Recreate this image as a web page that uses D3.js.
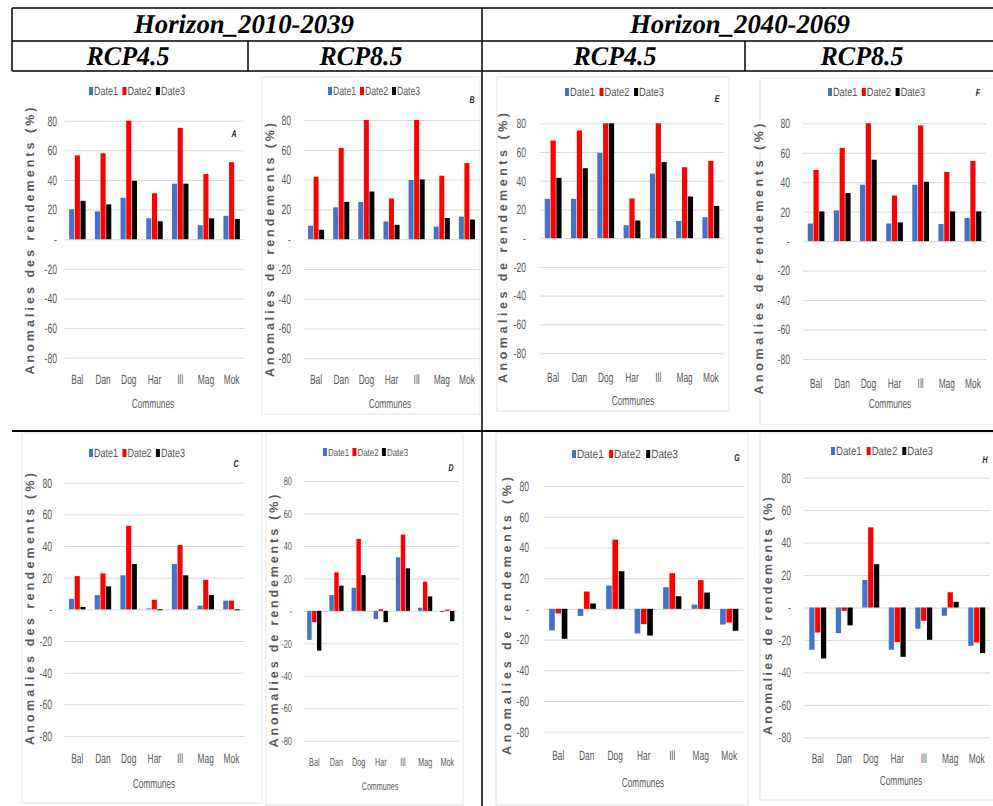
<!DOCTYPE html>
<html>
<head>
<meta charset="utf-8">
<script src="https://cdn.jsdelivr.net/npm/d3@7"></script>
<style>
  body { margin: 0; background: #fff; }
  svg { display: block; opacity: 0.999; }
  svg text { text-rendering: geometricPrecision; }
</style>
</head>
<body>
<svg id="fig" width="993" height="806"></svg>
<script>
// ---- data ----
const communes = ["Bal", "Dan", "Dog", "Har", "Ill", "Mag", "Mok"];
const dates = ["Date1", "Date2", "Date3"];
const dateColors = ["#4472C4", "#FF0000", "#000000"];
const yTickValues = [80, 60, 40, 20, 0, -20, -40, -60, -80];
const horizons = ["Horizon_2010-2039", "Horizon_2040-2069"];
const scenarios = ["RCP4.5", "RCP8.5"];
const xTitle = "Communes";
const yTitleDes = "Anomalies des rendements (%)";
const yTitleDe = "Anomalies de rendements (%)";

// yield anomalies (%), one row per date, columns in commune order
const valuesA = [[20.2, 18.8, 28, 14.1, 37.5, 9.4, 15.8], [56.6, 58, 80, 31, 75.2, 44, 52], [25.9, 23.5, 39.4, 12.1, 37.5, 14.1, 13.6]];
const valuesB = [[9, 21.4, 25, 11.9, 39.7, 8.4, 15.1], [41.9, 61.3, 80, 27.3, 80, 42.6, 51.1], [6.3, 25, 32, 9.6, 40.1, 14.2, 13.2]];
const valuesE = [[27.4, 27.4, 59.4, 9, 45, 12, 14.6], [68, 75, 80, 27.6, 80, 49.4, 53.8], [42, 48.7, 80, 12.3, 53, 29, 22.5]];
const valuesF = [[12, 20.9, 38.3, 12, 38.3, 11.6, 15.8], [48.4, 63.3, 80, 31, 78.6, 47, 54.4], [20.2, 32.6, 55.3, 12.7, 40.3, 20.2, 20.2]];
const valuesC = [[6.7, 9, 21.5, 0.6, 28.6, 2.3, 5.5], [21, 22.7, 52.8, 6.1, 40.6, 18.7, 5.5], [1.5, 14.5, 28.6, -0.6, 21.5, 9, -0.6]];
const valuesD = [[-17.9, 9.7, 14.2, -5, 33, 1.9, -0.8], [-7, 23.7, 44.3, 1, 47, 18, 0.8], [-24.5, 15.5, 22, -7, 26.2, 8.9, -6.4]];
const valuesG = [[-14.1, -4.6, 15.2, -16, 14.1, 2.8, -10.2], [-3, 11.3, 45.1, -10, 23.2, 18.7, -8.9], [-19.5, 3.5, 24.5, -17.4, 8.2, 10.6, -14.3]];
const valuesH = [[-26, -15.8, 17, -26, -13.1, -5.1, -23.6], [-15.4, -2, 49.4, -21.3, -8.2, 9.4, -21.5], [-31.4, -11, 26.7, -30.4, -19.9, 3.5, -28.1]];

// ---- panel layout ----
const panels = [
  { id: "A", values: valuesA, title: yTitleDes, fs: 1, gx: [64.5, 244.5], gy: [120.7, 357.7], tickX: 57, catY: 379, com: [153, 403], lg: [91, 183, 91], letter: [234, 133], tt: [30, 241, 267], frame: null },
  { id: "B", values: valuesB, title: yTitleDe, fs: 1, gx: [303.5, 479.5], gy: [120, 358.3], tickX: 291, catY: 379, com: [390, 403], lg: [330, 418, 91], letter: [472, 99], tt: [270, 250, 254], frame: [262, 77, 218, 337] },
  { id: "E", values: valuesE, title: yTitleDe, fs: 1, gx: [540, 724], gy: [123.3, 353], tickX: 526, catY: 377, com: [633, 400], lg: [567, 662, 92], letter: [717, 98], tt: [503, 248, 270], frame: [497, 77, 232, 334] },
  { id: "F", values: valuesF, title: yTitleDe, fs: 1, gx: [803, 986], gy: [123.3, 359], tickX: 790, catY: 383, com: [890, 403], lg: [830, 923, 92], letter: [978, 92], tt: [759, 259, 271], frame: [760, 78, 240, 347] },
  { id: "C", values: valuesC, title: yTitleDes, fs: 1, gx: [64.4, 244.3], gy: [482.7, 736], tickX: 52, catY: 758, com: [154, 783], lg: [91, 183, 453], letter: [236, 463], tt: [30, 609, 272], frame: [22, 433, 240, 370] },
  { id: "D", values: valuesD, title: yTitleDe, fs: 0.86, gx: [303.2, 458.4], gy: [481, 740.7], tickX: 292, catY: 762, com: [380, 786], lg: [325, 406, 452], letter: [451, 467], tt: [274, 621, 253], frame: [266, 433, 197, 372] },
  { id: "G", values: valuesG, title: yTitleDe, fs: 1, gx: [544, 743.5], gy: [486, 731.7], tickX: 529, catY: 755, com: [643, 782], lg: [574, 676, 454], letter: [737, 457], tt: [507, 616, 278], frame: [496, 433, 252, 372] },
  { id: "H", values: valuesH, title: yTitleDe, fs: 1, gx: [804.5, 990], gy: [477.7, 737.3], tickX: 791, catY: 758, com: [901, 780], lg: [833, 931, 451], letter: [985, 459], tt: [768, 616, 238], frame: [760, 433, 240, 367] }
];

const sans = "'Liberation Sans', Arial, sans-serif";
const textGrey = "#595959";
const gridGrey = "#D9D9D9";

// compress text horizontally to a narrow look
function squeeze(sel, f) {
  sel.each(function () {
    const w = this.getComputedTextLength();
    if (w > 0) d3.select(this).attr("textLength", w * f).attr("lengthAdjust", "spacingAndGlyphs");
  });
}

const svg = d3.select("#fig");
svg.append("rect").attr("width", 993).attr("height", 806).attr("fill", "#fff");

// ---- header table ----
const table = svg.append("g").attr("stroke", "#000").attr("stroke-width", 1.5);
[[12, 8, 993, 8], [12, 41, 993, 41], [12, 71, 993, 71], [12, 8, 12, 71],
 [482, 8, 482, 806], [248, 41, 248, 71], [745, 41, 745, 71]].forEach(l => {
  table.append("line").attr("x1", l[0]).attr("y1", l[1]).attr("x2", l[2]).attr("y2", l[3]);
});
table.append("line").attr("x1", 12).attr("y1", 431).attr("x2", 993).attr("y2", 431).attr("stroke-width", 2);

const headFont = "'Liberation Serif', 'Times New Roman', serif";
const horizonCenters = [244, 740];
horizons.forEach((h, i) => {
  svg.append("text").attr("x", horizonCenters[i]).attr("y", 33)
    .attr("text-anchor", "middle").attr("font-family", headFont)
    .attr("font-weight", "bold").attr("font-style", "italic").attr("font-size", 27)
    .attr("textLength", 220).attr("lengthAdjust", "spacingAndGlyphs")
    .text(h);
});
const scenarioCenters = [128, 361, 615, 862];
scenarioCenters.forEach((cx, i) => {
  svg.append("text").attr("x", cx).attr("y", 65)
    .attr("text-anchor", "middle").attr("font-family", headFont)
    .attr("font-weight", "bold").attr("font-style", "italic").attr("font-size", 27)
    .attr("textLength", 83).attr("lengthAdjust", "spacingAndGlyphs")
    .text(scenarios[i % 2]);
});

// ---- bar chart panels ----
panels.forEach(p => {
  const g = svg.append("g").attr("class", "panel-" + p.id);

  if (p.frame) {
    g.append("rect").attr("x", p.frame[0]).attr("y", p.frame[1])
      .attr("width", p.frame[2]).attr("height", p.frame[3])
      .attr("fill", "none").attr("stroke", "#E6E6E6").attr("stroke-width", 1);
  }

  const x = d3.scaleBand().domain(communes).range(p.gx).paddingInner(0.36).paddingOuter(0.18);
  const xs = d3.scaleBand().domain(dates).range([0, x.bandwidth()]).paddingInner(0.1);
  const y = d3.scaleLinear().domain([-80, 80]).range([p.gy[1], p.gy[0]]);

  // y axis with gridlines
  const yAxis = d3.axisLeft(y).tickValues(yTickValues)
    .tickFormat(v => v === 0 ? "-" : String(v))
    .tickSize(-(p.gx[1] - p.gx[0]))
    .tickPadding(p.gx[0] - p.tickX);
  const ya = g.append("g").attr("transform", `translate(${p.gx[0]},0)`).call(yAxis);
  ya.select(".domain").remove();
  ya.selectAll(".tick line").attr("stroke", gridGrey).attr("stroke-width", 1);
  const yt = ya.selectAll(".tick text").attr("fill", textGrey)
    .attr("font-family", sans).attr("font-size", 13.5 * p.fs);
  squeeze(yt, 0.64);

  // bars
  dates.forEach((d, si) => {
    g.append("g").selectAll("rect").data(p.values[si]).join("rect")
      .attr("x", (v, i) => x(communes[i]) + xs(d))
      .attr("width", xs.bandwidth())
      .attr("y", v => y(Math.max(0, v)))
      .attr("height", v => Math.abs(y(v) - y(0)))
      .attr("fill", dateColors[si]);
  });

  // category axis
  const xa = g.append("g").attr("transform", `translate(0,${p.catY})`)
    .call(d3.axisBottom(x).tickSize(0));
  xa.select(".domain").remove();
  const xt = xa.selectAll(".tick text").attr("y", 0).attr("dy", "0.35em")
    .attr("fill", textGrey).attr("font-family", sans).attr("font-size", 13.5 * p.fs);
  squeeze(xt, 0.62);

  // axis titles
  const ct = g.append("text").attr("x", p.com[0]).attr("y", p.com[1]).attr("dy", "0.35em")
    .attr("text-anchor", "middle").attr("fill", textGrey)
    .attr("font-family", sans).attr("font-size", 13 * p.fs).text(xTitle);
  squeeze(ct, 0.64);

  g.append("text")
    .attr("transform", `translate(${p.tt[0]},${p.tt[1]}) rotate(-90)`)
    .attr("dy", "0.35em").attr("text-anchor", "middle")
    .attr("fill", textGrey).attr("font-family", sans)
    .attr("font-weight", "bold").attr("font-size", 12.5)
    .attr("textLength", p.tt[2]).attr("lengthAdjust", "spacing")
    .text(p.title);

  // legend
  const step = (p.lg[1] - p.lg[0]) / 2.75;
  dates.forEach((d, si) => {
    const lx = p.lg[0] + si * step;
    g.append("rect").attr("x", lx - 2).attr("y", p.lg[2] - 4)
      .attr("width", 4).attr("height", 8).attr("fill", dateColors[si]);
    g.append("text").attr("x", lx + 3).attr("y", p.lg[2]).attr("dy", "0.35em")
      .attr("fill", textGrey).attr("font-family", sans).attr("font-size", 12 * p.fs)
      .attr("textLength", step * 0.72).attr("lengthAdjust", "spacingAndGlyphs")
      .text(d);
  });

  // panel letter
  const lt = g.append("text").attr("x", p.letter[0]).attr("y", p.letter[1]).attr("dy", "0.35em")
    .attr("text-anchor", "middle").attr("fill", "#222")
    .attr("font-family", sans).attr("font-weight", "bold").attr("font-style", "italic")
    .attr("font-size", 10).text(p.id);
  squeeze(lt, 0.7);
});
</script>
</body>
</html>
